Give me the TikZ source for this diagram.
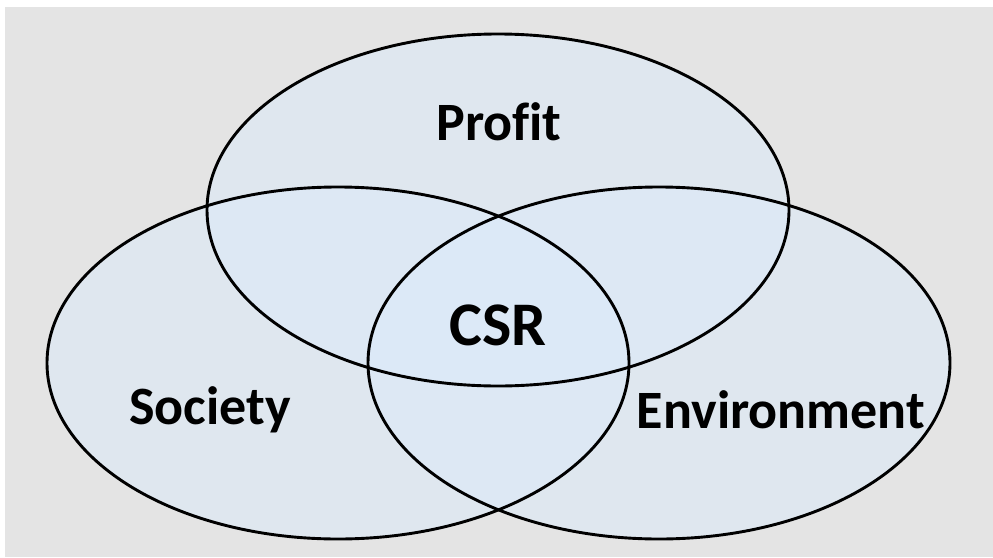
\documentclass[tikz,border=0pt]{standalone}
\usepackage{fontspec}
\setmainfont[Ligatures=NoCommon]{Carlito}
\usetikzlibrary{calc,positioning,shapes.geometric}
\definecolor{bggray}{RGB}{228,228,228}
\definecolor{setblue}{RGB}{220,234,250}

\begin{document}
\begin{tikzpicture}[x=1pt,y=-1pt,
    setshape/.style={ellipse,minimum width=582pt,minimum height=352pt},
    setfill/.style={setshape,fill=setblue,fill opacity=.5},
    setline/.style={setshape,draw,line width=2.9pt},
    setlabel/.style={font=\fontsize{54}{60}\selectfont\bfseries}]

  \useasboundingbox (0,0) rectangle (993,557);
  \fill [bggray] (5,7) rectangle (993,557);

  % fills first, outlines on top
  \foreach \name/\pos in {profit/{(498,210)},society/{(338,363)},environment/{(659,363)}}
  {
    \node [setfill] at \pos (\name_fill) {};
  }
  \foreach \name in {profit,society,environment}
  {
    \node [setline] at (\name_fill) (\name) {};
  }

  \node [setlabel] at (499,122) (profit_label) {Profit};
  \node [setlabel] at (210,410) (society_label) {Society};
  \node [setlabel] at (781,410) (environment_label) {Environment};
  \node [setlabel,font=\fontsize{62}{70}\selectfont\bfseries] at (498,325) (csr_label) {CSR};

\end{tikzpicture}
\end{document}
